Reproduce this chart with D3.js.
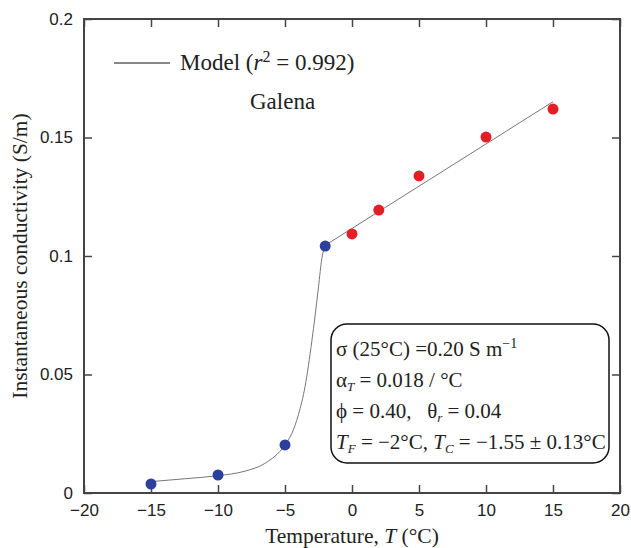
<!DOCTYPE html>
<html><head><meta charset="utf-8">
<script src="https://cdn.jsdelivr.net/npm/d3@7"></script>
<style>body{margin:0;background:#fff}svg{display:block}text{white-space:pre}</style>
</head><body>
<svg id="c" width="631" height="548"></svg>
<script>
// ---- data ----
const frozenT = [-15, -10, -5, -2];
const frozenSigma = [0.0038, 0.0076, 0.0203, 0.1042];
const thawedT = [0, 2, 5, 10, 15];
const thawedSigma = [0.1093, 0.1194, 0.1338, 0.1502, 0.1620];
// model curve (freezing part) and linear part
const modelFreezeT = [-15, -12.5, -10, -8, -6.5, -5, -4.5, -4, -3.5, -3, -2.75, -2.5, -2.25, -2];
const modelFreezeSigma = [0.0048, 0.0060, 0.0073, 0.0092, 0.0125, 0.0203, 0.0250, 0.0330, 0.0450, 0.0640, 0.0750, 0.0870, 0.0990, 0.1045];
const modelThawT = [-2, 15];
const modelThawSigma = [0.1045, 0.1651];
const xTicks = [-20, -15, -10, -5, 0, 5, 10, 15, 20];
const yTicks = [0, 0.05, 0.1, 0.15, 0.2];
const yTickLabels = ["0", "0.05", "0.1", "0.15", "0.2"];

const svg = d3.select("#c");
const L = 84, R = 620, T = 19, B = 493;
const x = d3.scaleLinear().domain([-20, 20]).range([L, R]);
const y = d3.scaleLinear().domain([0, 0.2]).range([B, T]);

const axisCol = "#444";
const sans = "'Liberation Sans', Arial, sans-serif";
const serif = "'Liberation Serif', 'Times New Roman', serif";

function styleAxis(g, labels) {
  g.select(".domain").remove();
  g.selectAll(".tick line").attr("stroke", axisCol).attr("stroke-width", 1.5);
  g.selectAll(".tick text").attr("font-family", sans).attr("font-size", 17).attr("fill", "#222");
  if (!labels) g.selectAll(".tick text").remove();
}
svg.append("g").attr("transform", `translate(0,${B})`)
  .call(d3.axisBottom(x).tickValues(xTicks).tickSizeInner(-8).tickSizeOuter(0).tickPadding(11))
  .call(g => styleAxis(g, true));
svg.append("g").attr("transform", `translate(0,${T})`)
  .call(d3.axisTop(x).tickValues(xTicks).tickSizeInner(-8).tickSizeOuter(0))
  .call(g => styleAxis(g, false));
svg.append("g").attr("transform", `translate(${L},0)`)
  .call(d3.axisLeft(y).tickValues(yTicks).tickFormat((d, i) => yTickLabels[i]).tickSizeInner(-8).tickSizeOuter(0).tickPadding(11))
  .call(g => styleAxis(g, true));
svg.append("g").attr("transform", `translate(${R},0)`)
  .call(d3.axisRight(y).tickValues(yTicks).tickSizeInner(-8).tickSizeOuter(0))
  .call(g => styleAxis(g, false));
svg.append("rect").attr("x", L).attr("y", T).attr("width", R - L).attr("height", B - T)
  .attr("fill", "none").attr("stroke", axisCol).attr("stroke-width", 2);

// model lines
svg.append("path").datum(d3.zip(modelFreezeT, modelFreezeSigma))
  .attr("d", d3.line().x(d => x(d[0])).y(d => y(d[1])).curve(d3.curveMonotoneX))
  .attr("fill", "none").attr("stroke", "#777").attr("stroke-width", 1);
svg.append("path").datum(d3.zip(modelThawT, modelThawSigma))
  .attr("d", d3.line().x(d => x(d[0])).y(d => y(d[1])))
  .attr("fill", "none").attr("stroke", "#777").attr("stroke-width", 1);

// points
svg.append("g").selectAll("circle").data(d3.zip(frozenT, frozenSigma)).join("circle")
  .attr("cx", d => x(d[0])).attr("cy", d => y(d[1])).attr("r", 5.5).attr("fill", "#2c3f9d");
svg.append("g").selectAll("circle").data(d3.zip(thawedT, thawedSigma)).join("circle")
  .attr("cx", d => x(d[0])).attr("cy", d => y(d[1])).attr("r", 5.5).attr("fill", "#e31e25");

// axis titles
const xt = svg.append("text").attr("x", 352).attr("y", 543).attr("text-anchor", "middle")
  .attr("font-family", serif).attr("font-size", 21.5).attr("fill", "#222");
xt.append("tspan").text("Temperature, ");
xt.append("tspan").attr("font-style", "italic").text("T");
xt.append("tspan").text(" (°C)");
svg.append("text").attr("transform", `translate(27,256) rotate(-90)`).attr("text-anchor", "middle")
  .attr("font-family", serif).attr("font-size", 21.5).attr("fill", "#222")
  .text("Instantaneous conductivity (S/m)");

// legend
svg.append("line").attr("x1", 114).attr("x2", 170).attr("y1", 63).attr("y2", 63).attr("stroke", "#111").attr("stroke-width", 1);
const lg = svg.append("text").attr("x", 180).attr("y", 70).attr("font-family", serif).attr("font-size", 23).attr("fill", "#222");
lg.append("tspan").text("Model (");
lg.append("tspan").attr("font-style", "italic").text("r");
lg.append("tspan").attr("dy", -8).attr("font-size", 16).text("2");
lg.append("tspan").attr("dy", 8).text(" = 0.992)");
svg.append("text").attr("x", 250).attr("y", 109).attr("font-family", serif).attr("font-size", 23).attr("fill", "#222").text("Galena");

// annotation box
svg.append("rect").attr("x", 331).attr("y", 324).attr("width", 278).attr("height", 139).attr("rx", 16)
  .attr("fill", "#fff").attr("stroke", "#111").attr("stroke-width", 1.5);
const fs = 21, bx = 336;
function tline(yy) { return svg.append("text").attr("x", bx).attr("y", yy).attr("font-family", serif).attr("font-size", fs).attr("fill", "#222"); }
const t1 = tline(356);
t1.append("tspan").text("σ (25°C) =0.20 S m");
t1.append("tspan").attr("dy", -8).attr("font-size", 14).text("−1");
const t2 = tline(387);
t2.append("tspan").text("α");
t2.append("tspan").attr("dy", 4).attr("font-size", 13).attr("font-style", "italic").text("T");
t2.append("tspan").attr("dy", -4).text(" = 0.018 / °C");
const t3 = tline(418);
t3.append("tspan").text("ϕ = 0.40,   θ");
t3.append("tspan").attr("dy", 4).attr("font-size", 13).attr("font-style", "italic").text("r");
t3.append("tspan").attr("dy", -4).text(" = 0.04");
const t4 = tline(449);
t4.append("tspan").attr("font-style", "italic").text("T");
t4.append("tspan").attr("dy", 4).attr("font-size", 13).attr("font-style", "italic").text("F");
t4.append("tspan").attr("dy", -4).text(" = −2°C, ");
t4.append("tspan").attr("font-style", "italic").text("T");
t4.append("tspan").attr("dy", 4).attr("font-size", 13).attr("font-style", "italic").text("C");
t4.append("tspan").attr("dy", -4).text(" = −1.55 ± 0.13°C");
</script>
</body></html>
